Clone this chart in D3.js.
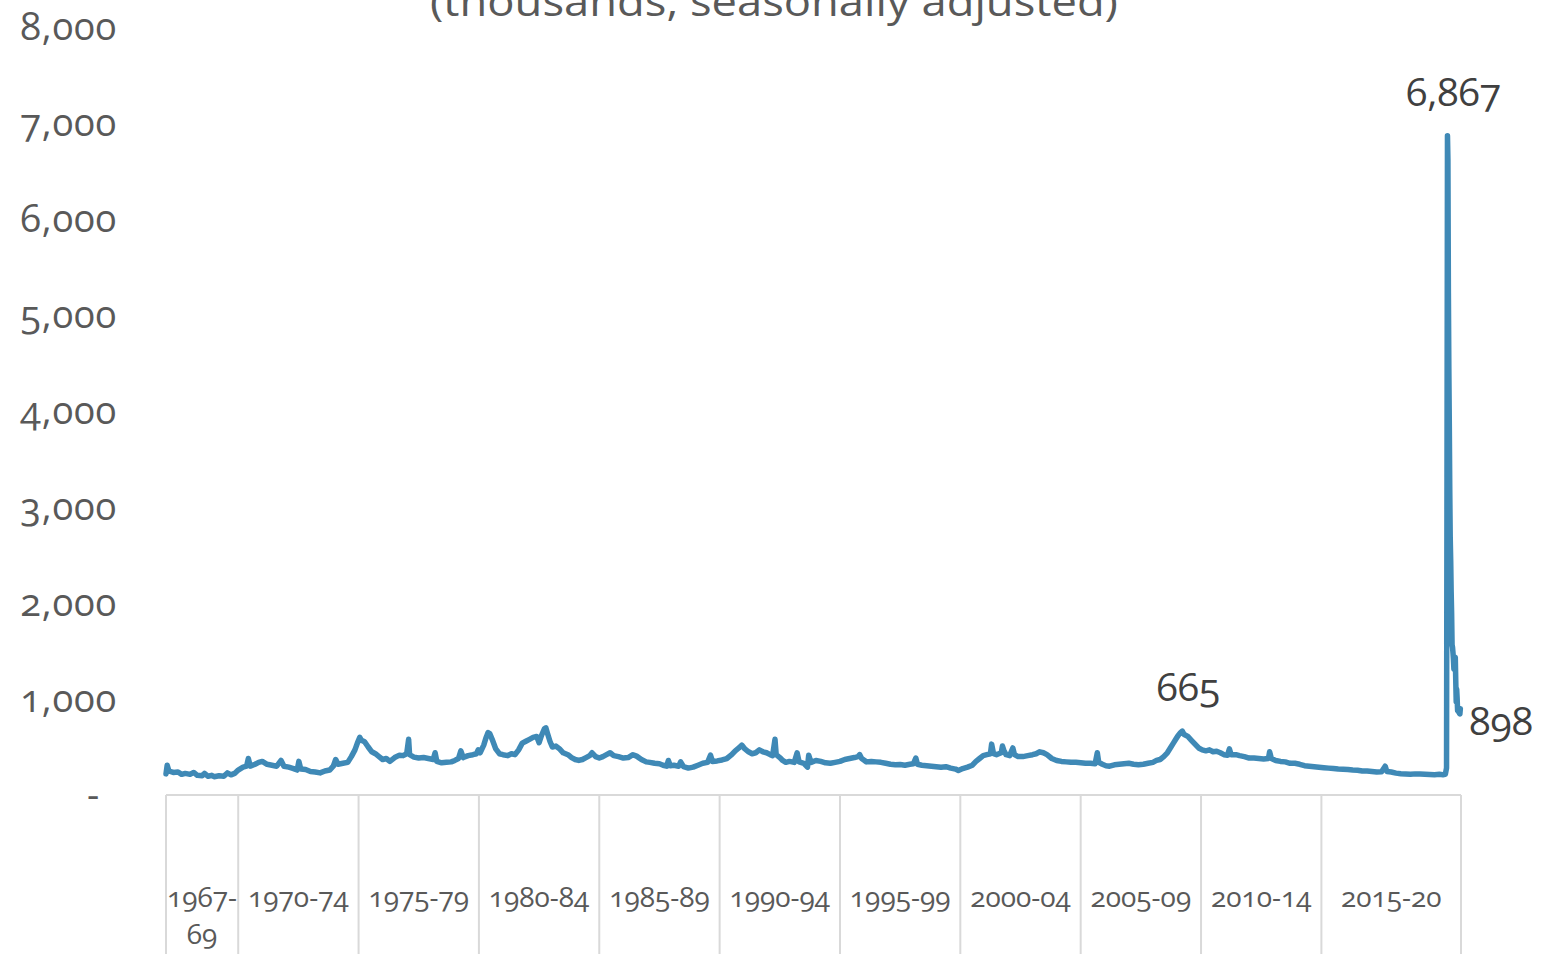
<!DOCTYPE html>
<html>
<head>
<meta charset="utf-8">
<script src="https://cdn.jsdelivr.net/npm/d3@7"></script>
<style>
  body { margin: 0; background: #fff; }
  svg text { font-family: "Open Sans", "Lato", sans-serif; font-variant-numeric: oldstyle-nums; }
</style>
</head>
<body>
<div id="chart"></div>
<script>
// weekly initial claims (decimal year, thousands)
var weeks = [
  1967.0, 1967.05, 1967.12, 1967.3, 1967.5, 1967.65, 1967.8, 1968.0, 1968.15, 1968.3,
  1968.5, 1968.6, 1968.75, 1968.9, 1969.0, 1969.2, 1969.4, 1969.55, 1969.7, 1969.85,
  1970.0, 1970.2, 1970.35, 1970.42, 1970.5, 1970.7, 1970.85, 1971.0, 1971.2, 1971.4,
  1971.6, 1971.78, 1971.9, 1972.1, 1972.3, 1972.45, 1972.52, 1972.6, 1972.8, 1973.0,
  1973.2, 1973.4, 1973.6, 1973.8, 1973.95, 1974.05, 1974.15, 1974.35, 1974.55, 1974.7,
  1974.85, 1974.95, 1975.05, 1975.12, 1975.25, 1975.4, 1975.55, 1975.7, 1975.85, 1976.0,
  1976.15, 1976.3, 1976.5, 1976.7, 1976.85, 1977.0, 1977.08, 1977.12, 1977.3, 1977.5,
  1977.7, 1977.9, 1978.1, 1978.18, 1978.25, 1978.45, 1978.65, 1978.85, 1979.0, 1979.15,
  1979.25, 1979.35, 1979.55, 1979.75, 1979.9, 1979.97, 1980.05, 1980.2, 1980.3, 1980.38,
  1980.45, 1980.55, 1980.7, 1980.85, 1981.0, 1981.2, 1981.35, 1981.5, 1981.65, 1981.8,
  1981.95, 1982.1, 1982.25, 1982.4, 1982.5, 1982.6, 1982.72, 1982.78, 1982.85, 1982.95,
  1983.05, 1983.2, 1983.35, 1983.5, 1983.7, 1983.85, 1984.0, 1984.15, 1984.3, 1984.45,
  1984.6, 1984.7, 1984.85, 1985.0, 1985.15, 1985.3, 1985.45, 1985.6, 1985.8, 1986.0,
  1986.2, 1986.4, 1986.55, 1986.75, 1986.95, 1987.1, 1987.3, 1987.5, 1987.65, 1987.8,
  1987.87, 1987.95, 1988.1, 1988.3, 1988.38, 1988.5, 1988.7, 1988.9, 1989.1, 1989.3,
  1989.5, 1989.62, 1989.7, 1989.9, 1990.1, 1990.3, 1990.5, 1990.65, 1990.8, 1990.92,
  1991.05, 1991.2, 1991.35, 1991.5, 1991.65, 1991.8, 1991.95, 1992.1, 1992.2, 1992.3,
  1992.35, 1992.5, 1992.62, 1992.75, 1992.9, 1993.1, 1993.22, 1993.3, 1993.5, 1993.65,
  1993.7, 1993.8, 1994.0, 1994.2, 1994.4, 1994.6, 1994.8, 1995.0, 1995.2, 1995.4,
  1995.6, 1995.75, 1995.82, 1995.9, 1996.1, 1996.3, 1996.5, 1996.7, 1996.9, 1997.1,
  1997.3, 1997.5, 1997.7, 1997.9, 1998.05, 1998.15, 1998.22, 1998.4, 1998.6, 1998.8,
  1999.0, 1999.2, 1999.4, 1999.6, 1999.8, 1999.92, 2000.1, 2000.3, 2000.5, 2000.65,
  2000.8, 2000.95, 2001.1, 2001.25, 2001.3, 2001.38, 2001.5, 2001.7, 2001.75, 2001.8,
  2001.9, 2002.05, 2002.18, 2002.25, 2002.4, 2002.6, 2002.8, 2003.0, 2003.15, 2003.3,
  2003.45, 2003.6, 2003.8, 2004.0, 2004.2, 2004.4, 2004.6, 2004.8, 2005.0, 2005.2,
  2005.4, 2005.6, 2005.69, 2005.75, 2005.9, 2006.05, 2006.2, 2006.4, 2006.6, 2006.8,
  2007.0, 2007.2, 2007.4, 2007.6, 2007.8, 2008.0, 2008.15, 2008.3, 2008.45, 2008.6,
  2008.75, 2008.85, 2008.95, 2009.05, 2009.15, 2009.22, 2009.3, 2009.45, 2009.6, 2009.75,
  2009.9, 2010.05, 2010.2, 2010.35, 2010.5, 2010.65, 2010.8, 2010.95, 2011.1, 2011.18,
  2011.25, 2011.45, 2011.6, 2011.8, 2012.0, 2012.2, 2012.4, 2012.6, 2012.8, 2012.85,
  2012.92, 2013.1, 2013.3, 2013.5, 2013.7, 2013.9, 2014.1, 2014.3, 2014.5, 2014.7,
  2014.9, 2015.1, 2015.3, 2015.5, 2015.7, 2015.9, 2016.1, 2016.3, 2016.5, 2016.7,
  2016.9, 2017.1, 2017.3, 2017.5, 2017.65, 2017.72, 2017.9, 2018.1, 2018.3, 2018.5,
  2018.7, 2018.9, 2019.1, 2019.3, 2019.5, 2019.7, 2019.9, 2020.05, 2020.15, 2020.199,
  2020.218, 2020.238, 2020.257, 2020.276, 2020.295, 2020.314, 2020.333, 2020.352, 2020.372, 2020.391,
  2020.410, 2020.429, 2020.448, 2020.467, 2020.486, 2020.505, 2020.525, 2020.544, 2020.563, 2020.582,
  2020.601, 2020.620, 2020.639, 2020.658, 2020.678, 2020.697, 2020.716, 2020.735, 2020.754, 2020.773
];
var claims = [
  220, 310, 250, 235, 240, 215, 225, 215, 235, 205,
  200, 225, 195, 205, 190, 200, 195, 230, 210, 225,
  260, 290, 300, 380, 300, 320, 340, 350, 320, 310,
  300, 360, 300, 290, 275, 260, 350, 270, 265, 245,
  240, 230, 250, 260, 300, 370, 320, 330, 340, 400,
  470, 540, 600, 570, 555, 500, 450, 430, 400, 370,
  380, 350, 390, 415, 410, 430, 580, 420, 395, 385,
  390, 380, 370, 440, 350, 335, 340, 345, 360, 380,
  460, 390, 410, 420, 430, 470, 440, 520, 600, 650,
  640, 580, 480, 430, 420, 410, 430, 420, 470, 540,
  560, 580, 600, 610, 545, 620, 690, 700, 640, 560,
  500, 510, 480, 440, 420, 390, 370, 360, 370, 390,
  410, 440, 400, 385, 400, 420, 440, 410, 400, 385,
  390, 420, 405, 370, 345, 340, 330, 325, 310, 300,
  360, 305, 310, 300, 345, 295, 280, 290, 310, 330,
  340, 415, 350, 355, 365, 380, 420, 460, 490, 520,
  480, 450, 430, 440, 470, 450, 440, 420, 410, 580,
  420, 390, 360, 340, 350, 340, 440, 345, 330, 290,
  415, 340, 360, 350, 335, 330, 340, 350, 370, 380,
  390, 400, 420, 380, 345, 350, 345, 340, 330, 320,
  315, 318, 310, 320, 325, 385, 320, 310, 305, 300,
  295, 290, 295, 280, 270, 255, 275, 290, 310, 350,
  380, 410, 420, 430, 530, 430, 420, 440, 510, 470,
  420, 410, 490, 420, 400, 400, 410, 420, 430, 450,
  440, 420, 380, 360, 350, 345, 340, 340, 335, 330,
  330, 325, 440, 340, 320, 305, 300, 315, 320, 325,
  330, 320, 315, 320, 330, 340, 360, 370, 400, 440,
  500, 540, 580, 620, 650, 665, 630, 610, 570, 530,
  490, 470, 460, 470, 450, 455, 440, 420, 415, 480,
  420, 420, 410, 400, 385, 385, 380, 375, 380, 450,
  380, 360, 350, 345, 330, 330, 320, 305, 300, 295,
  290, 285, 280, 275, 270, 268, 265, 260, 258, 250,
  250, 245, 240, 242, 300, 245, 240, 228, 222, 218,
  215, 220, 218, 215, 213, 212, 215, 212, 215, 282,
  3307, 6867, 6615, 5237, 4442, 3867, 3176, 2687, 2446, 2123,
  1897, 1566, 1540, 1482, 1413, 1310, 1307, 1422, 1435, 1191,
  971, 1104, 1011, 881, 893, 866, 873, 849, 845, 898
];

var yTicks = [0, 1000, 2000, 3000, 4000, 5000, 6000, 7000, 8000];
var periods = ["1967-69", "1970-74", "1975-79", "1980-84", "1985-89", "1990-94",
               "1995-99", "2000-04", "2005-09", "2010-14", "2015-20"];
var periodBreaks = [1967, 1970, 1975, 1980, 1985, 1990, 1995, 2000, 2005, 2010, 2015, 2020.8];
var callouts = [
  { i: weeks.indexOf(2009.22), text: "665" },
  { i: weeks.indexOf(2020.238), text: "6,867" },
  { i: weeks.length - 1, text: "898" }
];

var svgWidth = 1558;
var svgHeight = 954;
var margin = { top: 27, right: 97, bottom: 159, left: 166 };
var width = svgWidth - margin.left - margin.right;
var height = svgHeight - margin.top - margin.bottom;

var svg = d3.select("#chart")
  .append("svg")
  .attr("width", svgWidth)
  .attr("height", svgHeight);

var chartGroup = svg.append("g")
  .attr("transform", `translate(${margin.left}, ${margin.top})`);

var x = d3.scaleLinear()
  .domain([1967, 2020.8])
  .range([0, width]);

var y = d3.scaleLinear()
  .domain([0, 8000])
  .range([height, 0]);

// title, cut off at the top like in the original
svg.append("text")
  .attr("x", 774)
  .attr("y", 16)
  .attr("text-anchor", "middle")
  .attr("font-size", 41)
  .attr("fill", "#595959")
  .attr("textLength", 688)
  .attr("lengthAdjust", "spacingAndGlyphs")
  .text("(thousands, seasonally adjusted)");

// y axis labels, no line
var leftAxis = d3.axisLeft(y)
  .tickValues(yTicks)
  .tickSize(0)
  .tickPadding(49)
  .tickFormat(d => d === 0 ? "-" : d3.format(",")(d));

var yAxisG = chartGroup.append("g").call(leftAxis);
yAxisG.select(".domain").remove();
yAxisG.selectAll("text")
  .attr("font-size", 38)
  .attr("letter-spacing", 0.8)
  .attr("fill", "#595959")
  .attr("font-family", null);
yAxisG.selectAll("text")
  .filter(d => d === 0)
  .attr("dx", -17);

// x axis line and period separators
chartGroup.append("line")
  .attr("x1", 0).attr("x2", width)
  .attr("y1", height).attr("y2", height)
  .attr("stroke", "#d9d9d9")
  .attr("stroke-width", 2);

chartGroup.selectAll(".sep")
  .data(periodBreaks)
  .enter()
  .append("line")
  .attr("class", "sep")
  .attr("x1", d => x(d)).attr("x2", d => x(d))
  .attr("y1", height).attr("y2", svgHeight - margin.top)
  .attr("stroke", "#d9d9d9")
  .attr("stroke-width", 2);

var labels = chartGroup.selectAll(".period")
  .data(periods)
  .enter()
  .append("text")
  .attr("class", "period")
  .attr("text-anchor", "middle")
  .attr("font-size", 28)
  .attr("fill", "#595959")
  .attr("x", (d, i) => (x(periodBreaks[i]) + x(periodBreaks[i + 1])) / 2)
  .attr("y", height + 112)
  .text(d => d);

// wrap labels that are wider than their band
labels.each(function(d, i) {
  var band = x(periodBreaks[i + 1]) - x(periodBreaks[i]);
  var t = d3.select(this);
  if (this.getComputedTextLength() > band - 4) {
    var cx = t.attr("x");
    var parts = d.split("-");
    t.text(null);
    t.append("tspan").attr("x", cx).text(parts[0] + "-");
    t.append("tspan").attr("x", cx).attr("dy", 37).text(parts[1]);
  }
});

// the series
var line = d3.line()
  .x((d, i) => x(weeks[i]))
  .y(d => y(d));

chartGroup.append("path")
  .datum(claims)
  .attr("fill", "none")
  .attr("stroke", "#3f89b6")
  .attr("stroke-width", 5.5)
  .attr("stroke-linejoin", "round")
  .attr("stroke-linecap", "round")
  .attr("d", line);

// data labels
chartGroup.selectAll(".callout")
  .data(callouts)
  .enter()
  .append("text")
  .attr("class", "callout")
  .attr("font-size", 39)
  .attr("fill", "#404040")
  .attr("text-anchor", d => d.text === "898" ? "start" : "middle")
  .attr("x", d => x(weeks[d.i]) + (d.text === "898" ? 9 : 6))
  .attr("y", d => y(claims[d.i]) + (d.text === "898" ? 26 : -30))
  .text(d => d.text);
</script>
</body>
</html>
